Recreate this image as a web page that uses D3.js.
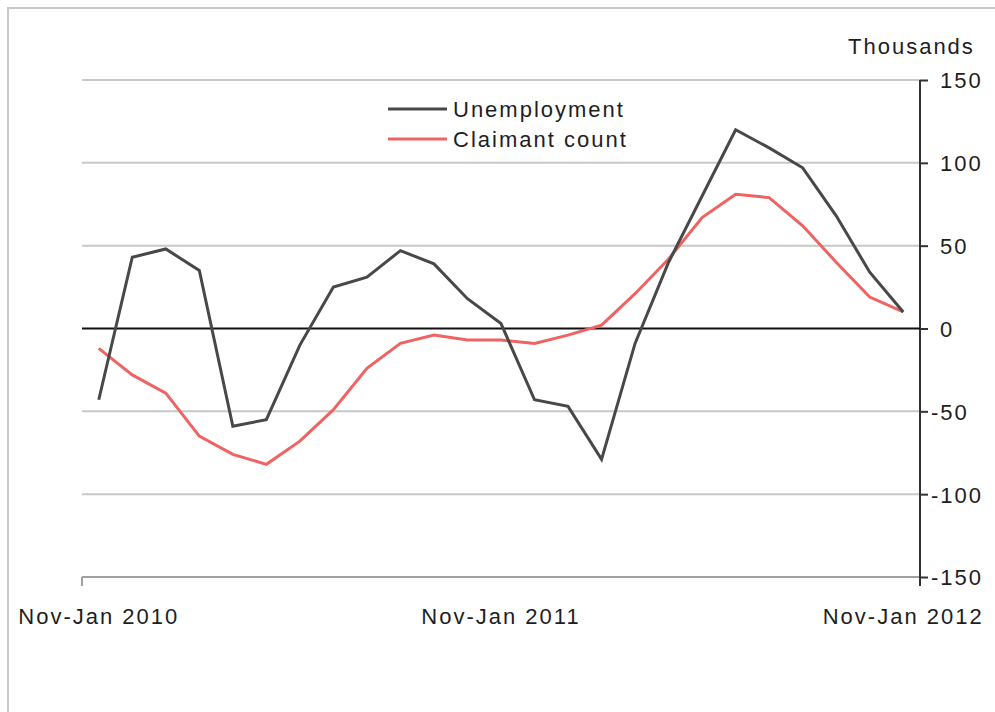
<!DOCTYPE html>
<html lang="en">
<head>
<meta charset="UTF-8">
<title>Unemployment and claimant count</title>
<script src="https://cdn.jsdelivr.net/npm/d3@7"></script>
<style>
body { margin: 0; background: #fff; font-family: 'Liberation Sans', Arial, sans-serif; }
text { fill: #1e1e1e; font-size: 22px; letter-spacing: 2px; }
</style>
</head>
<body>
<svg id="chart" width="995" height="712"></svg>
<script>
// three-month periods, Nov-Jan 2010 to Nov-Jan 2012
const periods = d3.range(25);
const periodLabels = { 0: "Nov-Jan 2010", 12: "Nov-Jan 2011", 24: "Nov-Jan 2012" };

const unemployment = [-43, 43, 48, 35, -59, -55, -10, 25, 31, 47, 39, 18, 3,
                      -43, -47, -79, -9, 40, 80, 120, 109, 97, 68, 34, 10];
const claimant = [-12, -28, -39, -65, -76, -82, -68, -49, -24, -9, -4, -7, -7,
                  -9, -4, 2, 21, 42, 67, 81, 79, 62, 40, 19, 10];

const yTicks = [-150, -100, -50, 0, 50, 100, 150];

const svg = d3.select("#chart");

// outer frame (only top and left edges show)
svg.append("rect")
    .attr("x", 8).attr("y", 8)
    .attr("width", 1000).attr("height", 720)
    .attr("fill", "none").attr("stroke", "#c8c8c8").attr("stroke-width", 2);

const plotL = 82, plotR = 920, plotT = 80, plotB = 577;

const x = d3.scalePoint().domain(periods).range([plotL, plotR]).padding(0.5);
const y = d3.scaleLinear().domain([-150, 150]).range([plotB, plotT]);

// gridlines
svg.append("g").selectAll("line")
    .data(yTicks.filter(d => d !== 0 && d !== -150))
    .join("line")
    .attr("x1", plotL).attr("x2", plotR)
    .attr("y1", d => y(d)).attr("y2", d => y(d))
    .attr("stroke", "#c8c8c8").attr("stroke-width", 2);

// bottom axis line
svg.append("line")
    .attr("x1", plotL).attr("x2", plotR)
    .attr("y1", plotB).attr("y2", plotB)
    .attr("stroke", "#a0a0a0").attr("stroke-width", 2);
svg.append("line")
    .attr("x1", plotL).attr("x2", plotL)
    .attr("y1", plotB).attr("y2", plotB + 9)
    .attr("stroke", "#a0a0a0").attr("stroke-width", 2);

// x labels
svg.append("g").selectAll("text")
    .data(Object.keys(periodLabels).map(Number))
    .join("text")
    .attr("x", d => x(d))
    .attr("y", 624)
    .attr("text-anchor", "middle")
    .text(d => periodLabels[d]);

// right y axis
const yAxis = svg.append("g")
    .attr("transform", `translate(${plotR},0)`)
    .call(d3.axisRight(y).tickValues(yTicks).tickSize(8).tickSizeOuter(0)
        .tickFormat(d => String(d)));
yAxis.select(".domain")
    .attr("stroke", "#333").attr("stroke-width", 2)
    .attr("d", `M0,${plotT}V${plotB + 9}`);
yAxis.selectAll(".tick line").attr("stroke", "#333").attr("stroke-width", 2);
yAxis.selectAll(".tick text")
    .attr("x", d => d < 0 ? 11 : 20)
    .attr("dy", "0.36em")
    .style("font-size", "22px")
    .style("font-family", "'Liberation Sans', Arial, sans-serif")
    .attr("fill", "#1e1e1e");

svg.append("text")
    .attr("x", 848).attr("y", 54)
    .text("Thousands");

// zero line
svg.append("line")
    .attr("x1", plotL).attr("x2", plotR)
    .attr("y1", y(0)).attr("y2", y(0))
    .attr("stroke", "#111").attr("stroke-width", 2);

const line = d3.line().x((d, i) => x(i)).y(d => y(d));

svg.append("path")
    .datum(claimant)
    .attr("d", line)
    .attr("fill", "none")
    .attr("stroke", "#ef6363")
    .attr("stroke-width", 3);

svg.append("path")
    .datum(unemployment)
    .attr("d", line)
    .attr("fill", "none")
    .attr("stroke", "#484848")
    .attr("stroke-width", 3);

// legend
const legend = [
    { name: "Unemployment", color: "#484848" },
    { name: "Claimant count", color: "#ef6363" }
];
const lg = svg.append("g").selectAll("g")
    .data(legend)
    .join("g")
    .attr("transform", (d, i) => `translate(388,${109 + i * 30})`);
lg.append("line")
    .attr("x1", 0).attr("x2", 59)
    .attr("stroke", d => d.color).attr("stroke-width", 3);
lg.append("text")
    .attr("x", 65).attr("dy", "0.36em")
    .text(d => d.name);
</script>
</body>
</html>
